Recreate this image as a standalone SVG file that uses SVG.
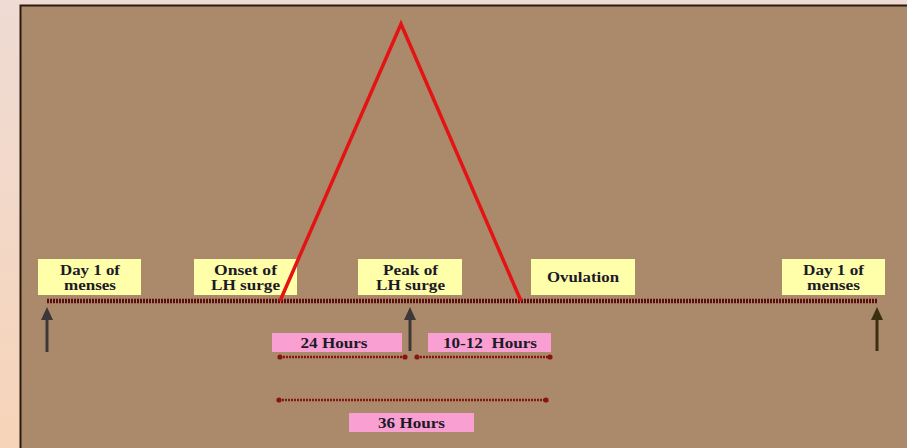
<svg xmlns="http://www.w3.org/2000/svg" width="907" height="448" viewBox="0 0 907 448">
<defs>
<linearGradient id="bg" x1="0" y1="0" x2="0" y2="1">
<stop offset="0" stop-color="#efdbd4"/>
<stop offset="1" stop-color="#f6d4b9"/>
</linearGradient>
<marker id="dot" viewBox="0 0 6 6" refX="3" refY="3" markerWidth="6" markerHeight="6" markerUnits="userSpaceOnUse">
<circle cx="3" cy="3" r="2.6" fill="#8a1414"/>
</marker>
</defs>
<style>
.box{fill:#ffffaa;}
.pink{fill:#f99fd2;}
.t{font-family:"Liberation Serif",serif;font-weight:bold;font-size:14px;fill:#1c1a28;text-anchor:middle;}
.span{stroke:#8a1414;stroke-width:2.5;stroke-dasharray:2 1;marker-start:url(#dot);marker-end:url(#dot);fill:none;}
</style>
<rect x="0" y="0" width="907" height="448" fill="url(#bg)"/>
<rect x="20" y="5" width="887" height="443" fill="#ab8a6b"/>
<path d="M20.5,448 L20.5,5.5 L907,5.5" fill="none" stroke="#2a1a10" stroke-width="2"/>

<g id="day1-left">
<rect class="box" x="38" y="259" width="103" height="36"/>
<text class="t" x="90" y="275" textLength="60" lengthAdjust="spacingAndGlyphs">Day 1 of</text>
<text class="t" x="90" y="289.5" textLength="52" lengthAdjust="spacingAndGlyphs">menses</text>
</g>
<g id="onset">
<rect class="box" x="194" y="259" width="103" height="36"/>
<text class="t" x="245.5" y="275" textLength="63" lengthAdjust="spacingAndGlyphs">Onset of</text>
<text class="t" x="245.5" y="289.5" textLength="69" lengthAdjust="spacingAndGlyphs">LH surge</text>
</g>
<g id="peak">
<rect class="box" x="358" y="259" width="104" height="36"/>
<text class="t" x="410.5" y="275" textLength="55" lengthAdjust="spacingAndGlyphs">Peak of</text>
<text class="t" x="410.5" y="289.5" textLength="69" lengthAdjust="spacingAndGlyphs">LH surge</text>
</g>
<g id="ovulation">
<rect class="box" x="531" y="259" width="104" height="36"/>
<text class="t" x="583" y="282" textLength="72" lengthAdjust="spacingAndGlyphs">Ovulation</text>
</g>
<g id="day1-right">
<rect class="box" x="782" y="259" width="103" height="36"/>
<text class="t" x="833.5" y="275" textLength="61" lengthAdjust="spacingAndGlyphs">Day 1 of</text>
<text class="t" x="833.5" y="289.5" textLength="53" lengthAdjust="spacingAndGlyphs">menses</text>
</g>
<g id="h24">
<rect class="pink" x="272" y="333" width="130" height="19"/>
<text class="t" x="334" y="348" textLength="67" lengthAdjust="spacingAndGlyphs">24 Hours</text>
</g>
<g id="h1012">
<rect class="pink" x="428" y="333" width="123" height="19"/>
<text class="t" x="490" y="348" textLength="94" lengthAdjust="spacingAndGlyphs" xml:space="preserve">10-12  Hours</text>
</g>
<g id="h36">
<rect class="pink" x="349" y="413" width="125" height="19"/>
<text class="t" x="411.5" y="428" textLength="67" lengthAdjust="spacingAndGlyphs">36 Hours</text>
</g>

<g id="connectors">
<line x1="47" y1="301" x2="877" y2="301" stroke="#5a0e10" stroke-width="4.5" stroke-dasharray="2 1"/>
<polyline points="280,301 401,24 521,301" fill="none" stroke="#e41414" stroke-width="3.5" stroke-linejoin="miter"/>
<path d="M47,352 L47,318" stroke="#3c3838" stroke-width="3"/>
<path d="M41,320 L47,307 L53,320 Z" fill="#3c3838"/>
<path d="M410,351 L410,318" stroke="#3c3838" stroke-width="3"/>
<path d="M404,320 L410,307 L416,320 Z" fill="#3c3838"/>
<path d="M877,351 L877,318" stroke="#3a3010" stroke-width="3"/>
<path d="M871,320 L877,307 L883,320 Z" fill="#3a3010"/>
<line class="span" x1="280" y1="357" x2="405" y2="357"/>
<line class="span" x1="417" y1="357" x2="550" y2="357"/>
<line class="span" x1="279" y1="400" x2="546" y2="400"/>
</g>
</svg>
